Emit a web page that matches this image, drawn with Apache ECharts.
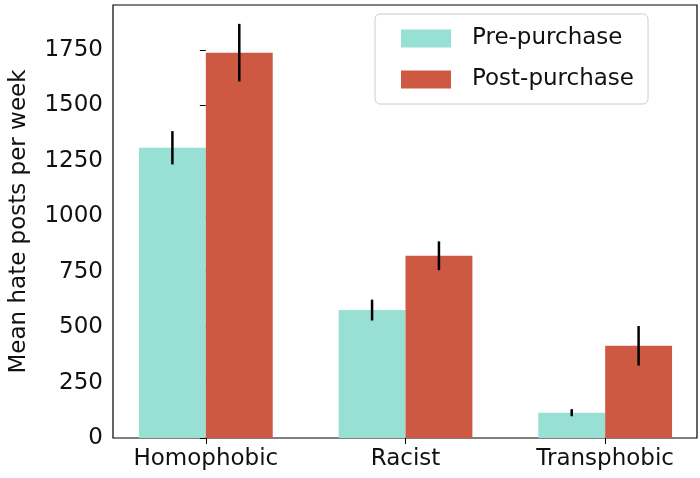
<!DOCTYPE html>
<html><head><meta charset="utf-8">
<script src="https://cdn.jsdelivr.net/npm/echarts@6/dist/echarts.min.js"></script>
<style>html,body{margin:0;padding:0;background:#fff}#c{width:700px;height:478px}</style>
</head><body><div id="c"></div>
<script>
const categories = ['Homophobic', 'Racist', 'Transphobic'];
const preValues = [1309, 577, 114];
const preErr = [75, 47, 16];
const postValues = [1738, 822, 416];
const postErr = [130, 65, 89];
const yTicks = [0, 250, 500, 750, 1000, 1250, 1500, 1750];

const preColor = '#98e0d3', postColor = '#cd5942';
const BW = 0.335;
function makeSeries(name, vals, errs, offset, color) {
  return {
    name, type: 'custom',
    itemStyle: { color },
    data: vals.map((v, i) => [i, v, errs[i]]),
    renderItem: (params, api) => {
      const i = api.value(0), v = api.value(1), e = api.value(2);
      const p0 = api.coord([i + offset - BW / 2, 0]);
      const p1 = api.coord([i + offset + BW / 2, v]);
      const c = api.coord([i + offset, v]);
      const eTop = api.coord([i + offset, v + e]);
      const eBot = api.coord([i + offset, v - e]);
      return { type: 'group', children: [
        { type: 'rect', shape: { x: p0[0], y: p1[1], width: p1[0] - p0[0], height: p0[1] - p1[1] }, style: { fill: color } },
        { type: 'line', shape: { x1: c[0], y1: eTop[1], x2: c[0], y2: eBot[1] }, style: { stroke: '#000', lineWidth: 2.5 } }
      ]};
    }
  };
}
const chart = echarts.init(document.getElementById('c'));
chart.setOption({
  animation: false,
  grid: { left: 112, right: 3, top: 5, bottom: 40, show: true, borderColor: '#000', borderWidth: 1.2 },
  legend: {
    right: 52, top: 14, orient: 'vertical', itemWidth: 50, itemHeight: 18, itemGap: 18,
    padding: [13, 14, 13, 26], borderColor: '#ccc', borderWidth: 1, borderRadius: 5,
    textStyle: { fontSize: 23, color: '#111', padding: [0, 0, 0, 16], fontFamily: 'DejaVu Sans' },
    data: [{ name: 'Pre-purchase', icon: 'rect', itemStyle: { color: preColor } },
           { name: 'Post-purchase', icon: 'rect', itemStyle: { color: postColor } }]
  },
  xAxis: {
    type: 'value', min: -0.465, max: 2.46, interval: 1,
    splitLine: { show: false },
    axisLine: { show: false },
    axisLabel: { fontSize: 23, color: '#111', margin: 10, fontFamily: 'DejaVu Sans',
      customValues: [0, 1, 2], formatter: v => categories[Math.round(v)] ?? '' },
    axisTick: { show: true, inside: false, customValues: [0, 1, 2], length: 6, lineStyle: { color: '#000' } }
  },
  yAxis: {
    type: 'value', min: 0, max: 1953,
    name: 'Mean hate posts per week', nameLocation: 'middle', nameGap: 82,
    nameTextStyle: { fontSize: 23, color: '#111', fontFamily: 'DejaVu Sans' },
    splitLine: { show: false },
    axisLine: { show: false },
    axisTick: { show: true, inside: false, customValues: yTicks, length: 6, lineStyle: { color: '#000' } },
    axisLabel: { fontSize: 23, color: '#111', customValues: yTicks, fontFamily: 'DejaVu Sans', margin: 10,
      formatter: v => String(v) }
  },
  series: [
    makeSeries('Pre-purchase', preValues, preErr, -BW / 2, preColor),
    makeSeries('Post-purchase', postValues, postErr, BW / 2, postColor)
  ]
});
</script></body></html>
